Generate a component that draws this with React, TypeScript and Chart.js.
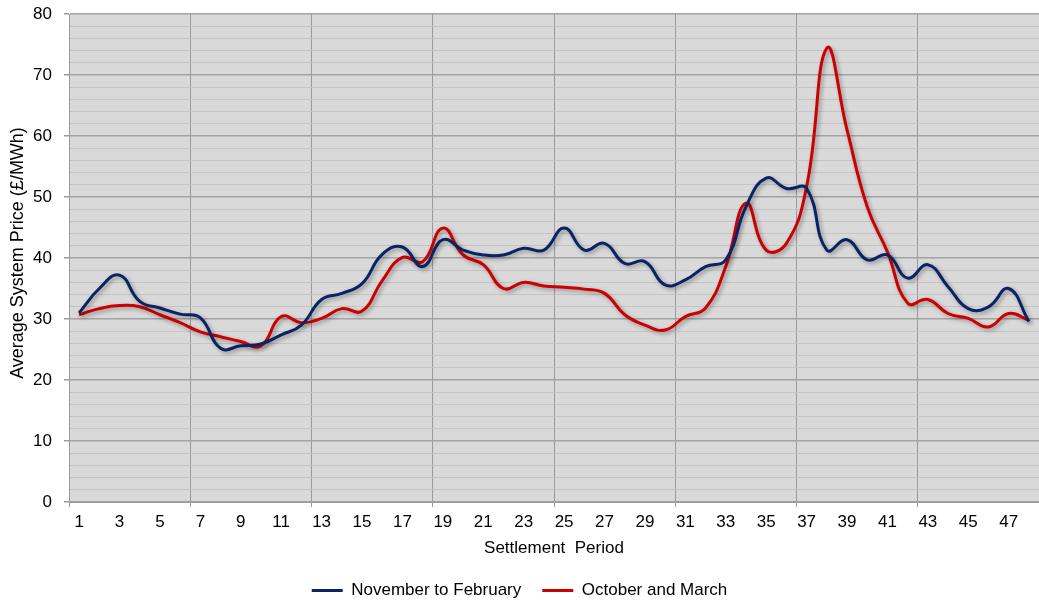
import React, { useEffect, useRef } from "react";
import { Chart, registerables } from "chart.js";

Chart.register(...registerables);

const periods: string[] = Array.from({ length: 48 }, (_, i) => String(i + 1));

const novToFeb: number[] = [
  31.0, 35.0, 37.2, 32.9, 31.8, 30.8, 30.2, 25.2, 25.6, 25.9,
  27.4, 29.0, 33.2, 34.2, 35.8, 40.6, 41.8, 38.6, 43.0, 41.3,
  40.5, 40.5, 41.6, 41.3, 44.9, 41.3, 42.4, 39.1, 39.4, 35.6,
  36.4, 38.6, 39.7, 48.4, 53.1, 51.4, 51.4, 41.3, 43.0, 39.7,
  40.5, 36.7, 38.9, 35.3, 31.7, 32.0, 35.0, 29.6,
];

const octAndMar: number[] = [
  30.7, 31.7, 32.2, 32.0, 30.7, 29.4, 27.9, 27.1, 26.3, 25.6,
  30.4, 29.4, 30.1, 31.7, 31.3, 36.3, 40.1, 39.4, 44.9, 40.5,
  38.9, 35.0, 36.0, 35.4, 35.2, 34.9, 34.2, 30.7, 29.0, 28.2,
  30.4, 31.8, 38.6, 49.0, 41.3, 42.4, 51.7, 74.4, 61.0, 48.4,
  41.0, 32.6, 33.2, 30.9, 30.1, 28.7, 30.9, 29.8,
];

const seriesNames: string[] = ["November to February", "October and March"];
const seriesColors: string[] = ["#0a2365", "#cc0000"];

const FONT = "'Liberation Sans', Arial, sans-serif";

const bgPlugin = {
  id: "plotBg",
  beforeDraw(chart: any) {
    const { ctx, chartArea } = chart;
    if (!chartArea) return;
    ctx.save();
    ctx.fillStyle = "#d9d9d9";
    ctx.fillRect(chartArea.left, chartArea.top, chartArea.right - chartArea.left, chartArea.bottom - chartArea.top);
    ctx.restore();
  },
};

const shadowPlugin = {
  id: "lineShadow",
  beforeDatasetDraw(chart: any) {
    const ctx = chart.ctx;
    ctx.save();
    ctx.shadowColor = "rgba(0,0,0,0.35)";
    ctx.shadowBlur = 4;
    ctx.shadowOffsetX = 2;
    ctx.shadowOffsetY = 2;
  },
  afterDatasetDraw(chart: any) {
    chart.ctx.restore();
  },
};

export default function App() {
  const ref = useRef<HTMLCanvasElement | null>(null);

  useEffect(() => {
    if (!ref.current) return;
    const chart = new Chart(ref.current, {
      type: "line",
      data: {
        labels: periods,
        datasets: [
          {
            label: seriesNames[0],
            data: novToFeb,
            borderColor: seriesColors[0],
            backgroundColor: seriesColors[0],
            borderWidth: 3,
            pointRadius: 0,
            tension: 0.45,
            fill: false,
          },
          {
            label: seriesNames[1],
            data: octAndMar,
            borderColor: seriesColors[1],
            backgroundColor: seriesColors[1],
            borderWidth: 3,
            pointRadius: 0,
            tension: 0.45,
            fill: false,
          },
        ],
      },
      options: {
        animation: false,
        responsive: false,
        maintainAspectRatio: false,
        layout: { padding: { left: 0, right: 0, top: 14, bottom: -6 } },
        plugins: {
          tooltip: { enabled: false },
          legend: {
            position: "bottom",
            labels: {
              font: { family: FONT, size: 17 },
              color: "#000",
              boxWidth: 31,
              boxHeight: 3,
              padding: 21,
              generateLabels: (c: any) =>
                c.data.datasets.map((ds: any, i: number) => ({
                  text: ds.label,
                  fillStyle: ds.borderColor,
                  strokeStyle: ds.borderColor,
                  lineWidth: 0,
                  hidden: false,
                  datasetIndex: i,
                  fontColor: "#000",
                })),
            },
          },
        },
        scales: {
          x: {
            type: "category",
            offset: true,
            afterFit: (s: any) => {
              s.height = 59;
              s.paddingLeft = 0;
              s.paddingRight = 0;
            },
            grid: {
              offset: true,
              drawTicks: true,
              tickLength: 5,
              color: (ctx: any) => (ctx.index % 6 === 0 && ctx.index < 48 ? "#9a9a9a" : "rgba(0,0,0,0)"),
              tickColor: (ctx: any) => (ctx.index % 6 === 0 ? "#9a9a9a" : "rgba(0,0,0,0)"),
              lineWidth: 1,
            },
            border: { display: true, color: "#9a9a9a", width: 1 },
            ticks: {
              autoSkip: false,
              maxRotation: 0,
              minRotation: 0,
              padding: 5,
              color: "#000",
              font: { family: FONT, size: 17 },
              callback: (_v: any, i: number) => (i % 2 === 0 ? periods[i] : ""),
            },
            title: {
              display: true,
              text: "Settlement  Period",
              color: "#000",
              font: { family: FONT, size: 17 },
              padding: { top: 0, bottom: 2 },
            },
          },
          y: {
            min: 0,
            max: 80,
            afterFit: (s: any) => {
              s.width = 69;
              s.paddingTop = 0;
              s.paddingBottom = 0;
            },
            grid: {
              drawTicks: true,
              tickLength: 5,
              color: (ctx: any) => (ctx.tick && ctx.tick.value % 10 === 0 ? "#a3a3a3" : "#c4c4c4"),
              tickColor: (ctx: any) => (ctx.tick && ctx.tick.value % 10 === 0 ? "#9a9a9a" : "rgba(0,0,0,0)"),
              lineWidth: (ctx: any) => (ctx.tick && ctx.tick.value % 10 === 0 ? 1.5 : 1),
            },
            border: { display: true, color: "#9a9a9a", width: 1 },
            ticks: {
              stepSize: 2,
              autoSkip: false,
              padding: 12,
              color: "#000",
              font: { family: FONT, size: 17 },
              callback: (v: any) => (Number(v) % 10 === 0 ? String(v) : ""),
            },
            title: {
              display: true,
              text: "  Average System Price (£/MWh)",
              color: "#000",
              font: { family: FONT, size: 18 },
              padding: { top: 7, bottom: 0 },
            },
          },
        },
      },
      plugins: [bgPlugin, shadowPlugin],
    });
    return () => chart.destroy();
  }, []);

  return (
    <div style={{ position: "fixed", left: 0, top: 0, width: 1039, height: 603, background: "#fff" }}>
      <canvas ref={ref} width={1039} height={603} style={{ display: "block", width: 1039, height: 603 }} />
    </div>
  );
}
